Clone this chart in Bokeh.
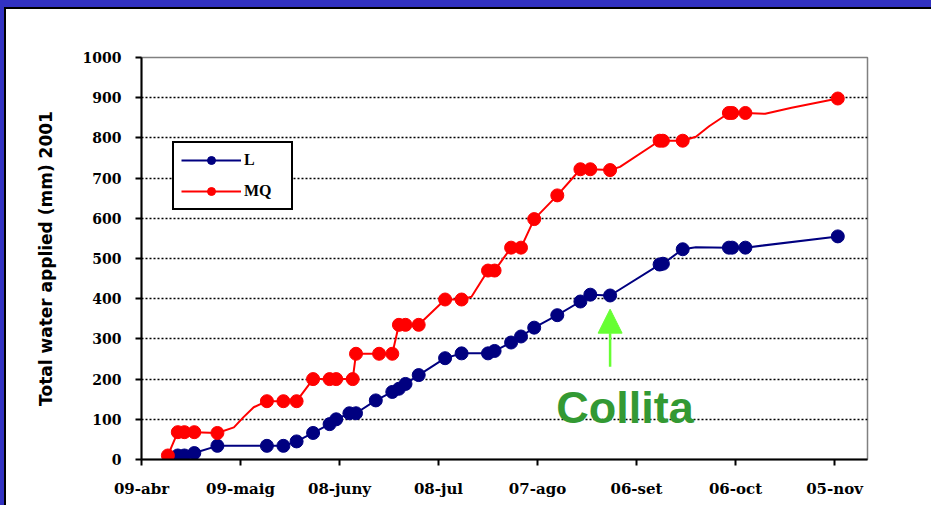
import pandas as pd
from bokeh.plotting import figure
from bokeh.models import (FixedTicker, Legend, LegendItem, Arrow, NormalHead, Label,
                          Range1d, ColumnDataSource, Div)
from bokeh.layouts import column, row
from bokeh.embed import file_html
from bokeh.resources import INLINE

# ---------------- data ----------------
start_date = "2001-04-09"
end_date = "2001-11-15"

tick_dates = ["2001-04-09", "2001-05-09", "2001-06-08", "2001-07-08",
              "2001-08-07", "2001-09-06", "2001-10-06", "2001-11-05"]
tick_labels = ["09-abr", "09-maig", "08-juny", "08-jul",
               "07-ago", "06-set", "06-oct", "05-nov"]

y_ticks = [0, 100, 200, 300, 400, 500, 600, 700, 800, 900, 1000]

# L series (dates, cumulative mm, 1 = point drawn with a marker)
L_dates = ["2001-04-20", "2001-04-22", "2001-04-25", "2001-05-02", "2001-05-17",
           "2001-05-22", "2001-05-26", "2001-05-31", "2001-06-05", "2001-06-07",
           "2001-06-11", "2001-06-13", "2001-06-19", "2001-06-24", "2001-06-26",
           "2001-06-28", "2001-07-02", "2001-07-10", "2001-07-15", "2001-07-23",
           "2001-07-25", "2001-07-30", "2001-08-02", "2001-08-06", "2001-08-13",
           "2001-08-20", "2001-08-23", "2001-08-29", "2001-09-13", "2001-09-14",
           "2001-09-20", "2001-09-24", "2001-10-04", "2001-10-05", "2001-10-09",
           "2001-11-06"]
L_values = [10, 10, 16, 34, 34,
            34, 45, 66, 88, 100,
            115, 115, 147, 168, 176,
            188, 210, 252, 264, 264,
            270, 291, 306, 328, 359,
            393, 410, 408, 485, 487,
            523, 528, 527, 527, 527,
            555]
L_marker = [1, 1, 1, 1, 1,
            1, 1, 1, 1, 1,
            1, 1, 1, 1, 1,
            1, 1, 1, 1, 1,
            1, 1, 1, 1, 1,
            1, 1, 1, 1, 1,
            1, 0, 1, 1, 1,
            1]

# MQ series
MQ_dates = ["2001-04-17", "2001-04-20", "2001-04-22", "2001-04-25", "2001-05-02",
            "2001-05-07", "2001-05-10", "2001-05-13", "2001-05-17", "2001-05-22",
            "2001-05-26", "2001-05-31", "2001-06-05", "2001-06-07", "2001-06-12",
            "2001-06-13", "2001-06-20", "2001-06-24", "2001-06-26", "2001-06-28",
            "2001-07-02", "2001-07-10", "2001-07-15", "2001-07-18", "2001-07-23",
            "2001-07-25", "2001-07-30", "2001-08-02", "2001-08-06", "2001-08-13",
            "2001-08-20", "2001-08-23", "2001-08-29", "2001-09-01", "2001-09-13",
            "2001-09-14", "2001-09-20", "2001-09-24", "2001-09-28", "2001-10-04",
            "2001-10-05", "2001-10-09", "2001-10-15", "2001-10-23", "2001-11-06"]
MQ_values = [10, 68, 68, 68, 66,
             80, 106, 130, 145, 145,
             145, 200, 200, 200, 200,
             263, 263, 263, 335, 335,
             335, 398, 398, 405, 470,
             470, 527, 527, 598, 657,
             722, 722, 720, 728, 793,
             793, 793, 803, 829, 862,
             862, 862, 860, 875, 898]
MQ_marker = [1, 1, 1, 1, 1,
             0, 0, 0, 1, 1,
             1, 1, 1, 1, 1,
             1, 1, 1, 1, 1,
             1, 1, 1, 0, 1,
             1, 1, 1, 1, 1,
             1, 1, 1, 0, 1,
             1, 1, 0, 0, 1,
             1, 1, 0, 0, 1]

harvest_date = "2001-08-29"
harvest_label = "Collita"

# ---------------- helpers ----------------
t0 = pd.Timestamp(start_date)


def days(ds):
    return [int((pd.Timestamp(d) - t0).days) for d in ds]


L_x = days(L_dates)
MQ_x = days(MQ_dates)
tick_x = days(tick_dates)

L_line_src = ColumnDataSource(dict(x=L_x, y=L_values))
L_pt_src = ColumnDataSource(dict(x=[a for a, m in zip(L_x, L_marker) if m],
                                 y=[b for b, m in zip(L_values, L_marker) if m]))
MQ_line_src = ColumnDataSource(dict(x=MQ_x, y=MQ_values))
MQ_pt_src = ColumnDataSource(dict(x=[a for a, m in zip(MQ_x, MQ_marker) if m],
                                  y=[b for b, m in zip(MQ_values, MQ_marker) if m]))

BLUE = "#000080"
RED = "#ff0000"
SERIF = "Liberation Serif"
TICK_FONT = "DejaVu Serif"

# ---------------- figure ----------------
p = figure(width=925, height=496, output_backend="svg", toolbar_location=None,
           title=None,
           x_range=Range1d(0, days([end_date])[0]), y_range=Range1d(0, 1000),
           min_border_left=135, min_border_right=64, min_border_top=48,
           min_border_bottom=46, margin=0)
p.background_fill_color = "white"
p.border_fill_color = "white"
p.outline_line_color = "#808080"
p.outline_line_width = 1.5

# grid
p.xgrid.visible = False
p.ygrid.ticker = FixedTicker(ticks=y_ticks[1:-1])
p.ygrid.grid_line_color = "black"
p.ygrid.grid_line_alpha = 1
p.ygrid.grid_line_dash = "2 2"
p.ygrid.grid_line_width = 1.5

# axes
p.xaxis.ticker = FixedTicker(ticks=tick_x)
p.xaxis.major_label_overrides = {int(t): lab for t, lab in zip(tick_x, tick_labels)}
p.yaxis.ticker = FixedTicker(ticks=y_ticks)
for ax in (p.xaxis, p.yaxis):
    ax.axis_line_color = "black"
    ax.axis_line_width = 2
    ax.major_tick_line_color = "black"
    ax.major_tick_line_width = 2
    ax.major_tick_in = 0
    ax.major_tick_out = 6
    ax.minor_tick_line_color = None
    ax.major_label_text_font = TICK_FONT
    ax.major_label_text_font_style = "bold"
    ax.major_label_text_color = "black"
p.xaxis.major_label_text_font_size = "15px"
p.xaxis.major_label_standoff = 14
p.yaxis.major_label_text_font_size = "14px"
p.yaxis.major_label_standoff = 14
p.yaxis.axis_label = "Total water applied (mm) 2001"
p.yaxis.axis_label_text_font = "DejaVu Sans"
p.yaxis.axis_label_text_font_style = "bold"
p.yaxis.axis_label_text_font_size = "17px"
p.yaxis.axis_label_text_color = "black"
p.yaxis.axis_label_standoff = 24

# series
l_line = p.line("x", "y", source=L_line_src, line_color=BLUE, line_width=2)
l_pts = p.scatter("x", "y", source=L_pt_src, marker="circle", size=13,
                  fill_color=BLUE, line_color=BLUE)
m_line = p.line("x", "y", source=MQ_line_src, line_color=RED, line_width=2)
m_pts = p.scatter("x", "y", source=MQ_pt_src, marker="circle", size=13,
                  fill_color=RED, line_color=RED)

legend = Legend(items=[LegendItem(label="L", renderers=[l_line, l_pts]),
                       LegendItem(label="MQ", renderers=[m_line, m_pts])],
                location=(31, 249), orientation="vertical")
legend.border_line_color = "black"
legend.border_line_alpha = 1
legend.border_line_width = 2
legend.background_fill_color = "white"
legend.background_fill_alpha = 1
legend.label_text_font = SERIF
legend.label_text_font_style = "bold"
legend.label_text_font_size = "16px"
legend.label_text_color = "black"
legend.glyph_width = 60
legend.glyph_height = 20
legend.label_height = 20
legend.label_width = 40
legend.label_standoff = 3
legend.spacing = 11
legend.padding = 7
legend.margin = 0
p.add_layout(legend)

# harvest annotation
hx = days([harvest_date])[0]
GREEN_ARROW = "#66ff33"
p.add_layout(Arrow(end=NormalHead(size=24, fill_color=GREEN_ARROW, line_color=GREEN_ARROW),
                   x_start=hx, y_start=231, x_end=hx, y_end=374,
                   line_color=GREEN_ARROW, line_width=2.5))
p.add_layout(Label(x=hx + 4.5, y=129, text=harvest_label, text_align="center",
                   text_baseline="middle", text_font="Liberation Sans",
                   text_font_style="bold", text_font_size="45px",
                   text_color="#339933"))

# ---------------- frame (blue slide border) ----------------
FRAME_BLUE = "#3232c2"
top_blue = Div(text="", width=931, height=7, margin=0,
               styles={"background-color": FRAME_BLUE})
left_blue = Div(text="", width=4, height=498, margin=0,
                styles={"background-color": FRAME_BLUE})
top_black = Div(text="", width=927, height=2, margin=0,
                styles={"background-color": "black"})
left_black = Div(text="", width=2, height=496, margin=0,
                 styles={"background-color": "black"})

layout = column(top_blue,
                row(left_blue,
                    column(top_black, row(left_black, p, spacing=0, margin=0),
                           spacing=0, margin=0),
                    spacing=0, margin=0),
                spacing=0, margin=0)

open("out.html", "w").write(file_html(layout, INLINE))
